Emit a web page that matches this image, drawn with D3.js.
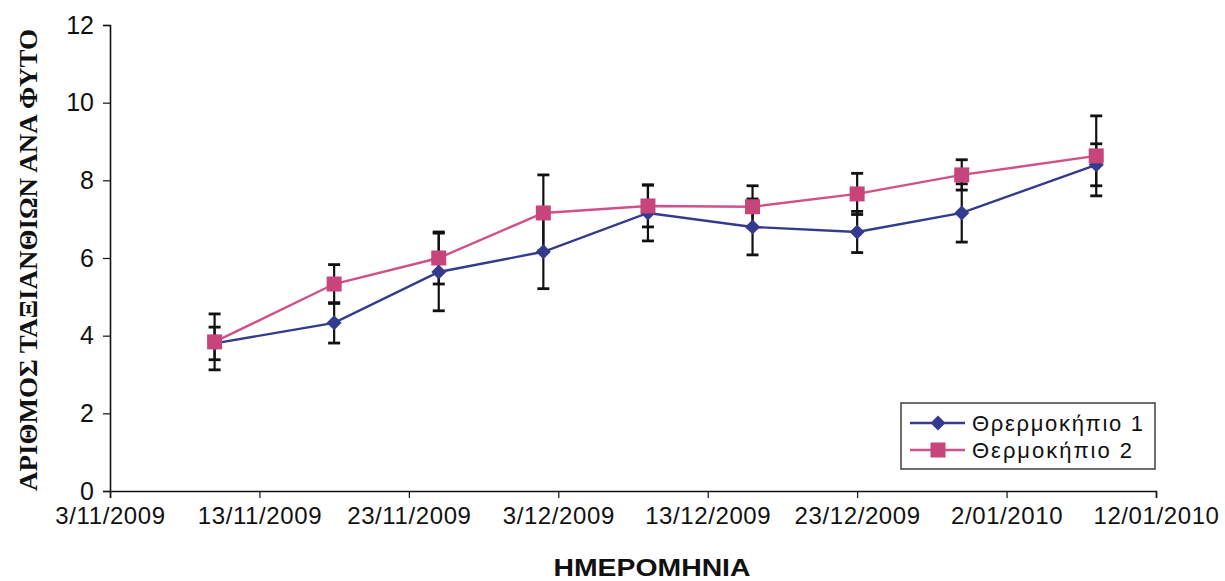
<!DOCTYPE html>
<html lang="el">
<head>
<meta charset="utf-8">
<title>Αριθμός ταξιανθιών ανά φυτό</title>
<script src="https://cdn.jsdelivr.net/npm/d3@7"></script>
<style>
  html, body { margin: 0; padding: 0; background: #fff; }
  svg { display: block; }
  .tick text { font-family: Arial, "Liberation Sans", sans-serif; fill: #111; }
</style>
</head>
<body>
<svg id="chart" width="1225" height="581"></svg>
<script>
// Ημερομηνίες μετρήσεων
const dates = ["10/11/2009", "18/11/2009", "25/11/2009", "2/12/2009", "9/12/2009",
               "16/12/2009", "23/12/2009", "30/12/2009", "8/01/2010"];

// Θερμοκήπιο 1
const serie1 = [3.8, 4.33, 5.64, 6.16, 7.16, 6.8, 6.67, 7.16, 8.4];
const error1 = [0.42, 0.52, 1.0, 0.95, 0.72, 0.72, 0.53, 0.75, 0.54];

// Θερμοκήπιο 2
const serie2 = [3.84, 5.33, 6.0, 7.16, 7.34, 7.32, 7.65, 8.14, 8.63];
const error2 = [0.72, 0.5, 0.67, 0.98, 0.54, 0.54, 0.53, 0.39, 1.03];

const xTicks = ["3/11/2009", "13/11/2009", "23/11/2009", "3/12/2009", "13/12/2009",
                "23/12/2009", "2/01/2010", "12/01/2010"];
const yTicks = [0, 2, 4, 6, 8, 10, 12];

const parse = d3.timeParse("%d/%m/%Y");
const fmt = d3.timeFormat("%-d/%m/%Y");

const svg = d3.select('#chart');
const mLeft = 110, mRight = 1156, mTop = 25, mBottom = 491;

const x = d3.scaleTime()
    .domain([parse(xTicks[0]), parse(xTicks[xTicks.length - 1])])
    .range([mLeft, mRight]);
const y = d3.scaleLinear().domain([0, 12]).range([mBottom, mTop]);

// άξονες
const xAxis = svg.append('g')
    .attr('transform', `translate(0,${mBottom})`)
    .call(d3.axisBottom(x).tickValues(xTicks.map(parse)).tickFormat(fmt).tickSize(7).tickPadding(9));
xAxis.selectAll('text').attr('font-size', 24).attr('letter-spacing', 0.6);

const yAxis = svg.append('g')
    .attr('transform', `translate(${mLeft},0)`)
    .call(d3.axisLeft(y).tickValues(yTicks).tickSize(7).tickPadding(9));
yAxis.selectAll('text').attr('font-size', 25);

svg.selectAll('.domain').attr('stroke', '#111').attr('stroke-width', 1.6);
svg.selectAll('.tick line').attr('stroke', '#111').attr('stroke-width', 1.2);

// το λάθος "Θρερμοκήπιο" υπάρχει και στο πρωτότυπο
const series = [
    { name: 'Θρερμοκήπιο 1', values: serie1, errors: error1, color: '#343a8e', marker: 'diamond', w: 171 },
    { name: 'Θερμοκήπιο 2', values: serie2, errors: error2, color: '#d2508a', marker: 'square', w: 160 }
];

const line = d3.line().x(d => x(d.date)).y(d => y(d.v));

function drawMarker(g, type, color) {
    if (type === 'diamond') {
        g.append('path').attr('d', 'M0,-7.5L7.5,0L0,7.5L-7.5,0Z').attr('fill', color);
    } else {
        g.append('rect').attr('x', -7.5).attr('y', -7.5).attr('width', 15).attr('height', 15)
            .attr('fill', '#c8457c');
    }
}

series.forEach(s => {
    const pts = dates.map((d, i) => ({ date: parse(d), v: s.values[i], e: s.errors[i] }));
    s.pts = pts;
    svg.append('path')
        .datum(pts)
        .attr('d', line)
        .attr('fill', 'none')
        .attr('stroke', s.color)
        .attr('stroke-width', 2.4);
});

// ράβδοι σφάλματος
series.forEach(s => {
    const eb = svg.append('g').attr('stroke', '#111').attr('stroke-width', 2.2);
    s.pts.forEach(p => {
        const cx = x(p.date);
        const y0 = y(p.v - p.e), y1 = y(p.v + p.e);
        eb.append('line').attr('x1', cx).attr('x2', cx).attr('y1', y0).attr('y2', y1);
        eb.append('line').attr('x1', cx - 6).attr('x2', cx + 6).attr('y1', y0).attr('y2', y0).attr('stroke-width', 2.8);
        eb.append('line').attr('x1', cx - 6).attr('x2', cx + 6).attr('y1', y1).attr('y2', y1).attr('stroke-width', 2.8);
    });
});

series.forEach(s => {
    s.pts.forEach(p => {
        const g = svg.append('g').attr('transform', `translate(${x(p.date)},${y(p.v)})`);
        drawMarker(g, s.marker, s.color);
    });
});

// υπόμνημα
const legend = svg.append('g').attr('transform', 'translate(901,403)');
legend.append('rect').attr('width', 254).attr('height', 66)
    .attr('fill', '#fff').attr('stroke', '#222').attr('stroke-width', 1.3);
series.forEach((s, i) => {
    const ly = 20 + i * 27;
    legend.append('line').attr('x1', 9).attr('x2', 64).attr('y1', ly).attr('y2', ly)
        .attr('stroke', s.color).attr('stroke-width', 2.4);
    const m = legend.append('g').attr('transform', `translate(37,${ly})`);
    drawMarker(m, s.marker, s.color);
    legend.append('text').attr('x', 71).attr('y', ly + 8)
        .attr('font-family', 'Arial, "Liberation Sans", sans-serif')
        .attr('font-size', 22).attr('fill', '#111')
        .attr('textLength', s.w).attr('lengthAdjust', 'spacing')
        .text(s.name);
});

// τίτλοι αξόνων
svg.append('text')
    .attr('transform', `translate(37,${(mTop + mBottom) / 2 + 2}) rotate(-90)`)
    .attr('text-anchor', 'middle')
    .attr('font-family', '"Liberation Serif", "Times New Roman", serif')
    .attr('font-weight', 'bold').attr('font-size', 26).attr('fill', '#111')
    .attr('textLength', 462).attr('lengthAdjust', 'spacingAndGlyphs')
    .text('ΑΡΙΘΜΟΣ ΤΑΞΙΑΝΘΙΩΝ ΑΝΑ ΦΥΤΟ');

svg.append('text')
    .attr('x', 652).attr('y', 576)
    .attr('text-anchor', 'middle')
    .attr('font-family', 'Arial, "Liberation Sans", sans-serif')
    .attr('font-weight', 'bold').attr('font-size', 24).attr('fill', '#111')
    .attr('textLength', 197).attr('lengthAdjust', 'spacingAndGlyphs')
    .text('ΗΜΕΡΟΜΗΝΙΑ');
</script>
</body>
</html>
